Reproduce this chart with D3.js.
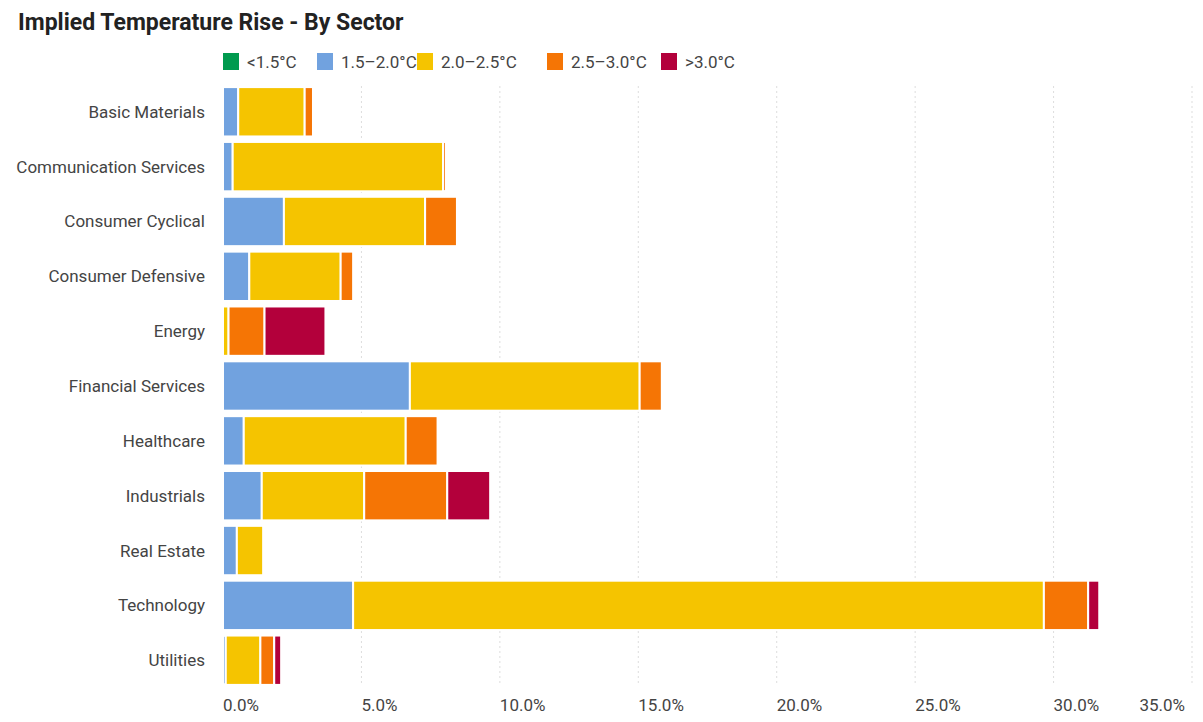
<!DOCTYPE html>
<html><head><meta charset="utf-8">
<script src="https://cdn.jsdelivr.net/npm/d3@7"></script>
<style>body{margin:0;background:#fff;font-family:Roboto,sans-serif}</style>
</head><body>
<svg id="chart" width="1203" height="722"></svg>
<script>
var sectors = ["Basic Materials", "Communication Services", "Consumer Cyclical", "Consumer Defensive", "Energy", "Financial Services", "Healthcare", "Industrials", "Real Estate", "Technology", "Utilities"];
var bands = ["<1.5°C", "1.5–2.0°C", "2.0–2.5°C", "2.5–3.0°C", ">3.0°C"];
var colors = ["#009a4e", "#71a2df", "#f5c400", "#f57505", "#b3003b"];
var below15 = [0, 0, 0, 0, 0, 0, 0, 0, 0, 0, 0];
var b15to20 = [0.55, 0.35, 2.2, 0.95, 0, 6.75, 0.75, 1.4, 0.5, 4.7, 0.1];
var b20to25 = [2.4, 7.6, 5.1, 3.3, 0.2, 8.3, 5.85, 3.7, 0.95, 24.95, 1.25];
var b25to30 = [0.3, 0.1, 1.15, 0.45, 1.3, 0.8, 1.15, 3.0, 0, 1.6, 0.5];
var above30 = [0, 0, 0, 0, 2.2, 0, 0, 1.55, 0, 0.4, 0.25];
var xTicks = [0, 5, 10, 15, 20, 25, 30, 35];

var series = [below15, b15to20, b20to25, b25to30, above30];
var rows = sectors.map(function (s, i) {
  var r = { sector: s };
  bands.forEach(function (b, j) { r[b] = series[j][i]; });
  return r;
});

var svg = d3.select("#chart");
var x = d3.scaleLinear().domain([0, 35]).range([223, 1192]);
var y = d3.scaleBand().domain(sectors).range([86, 686]).paddingInner(0.1).paddingOuter(0.02);

// title
svg.append("text").attr("x", 18).attr("y", 30).attr("font-size", 23).attr("font-weight", "bold")
  .attr("fill", "#222").text("Implied Temperature Rise - By Sector");

// legend
var lx = [223, 317, 417, 547, 661];
bands.forEach(function (b, i) {
  var g = svg.append("g").attr("transform", "translate(" + lx[i] + ",53)");
  g.append("rect").attr("width", 16).attr("height", 17).attr("fill", colors[i]);
  g.append("text").attr("x", 24).attr("y", 15).attr("font-size", 17).attr("fill", "#444").text(b);
});

// grid
svg.append("g").selectAll("line").data(xTicks.slice(1)).enter().append("line")
  .attr("x1", function (d) { return x(d); }).attr("x2", function (d) { return x(d); })
  .attr("y1", 86).attr("y2", 686).attr("stroke", "#ddd").attr("stroke-dasharray", "2,3");

// bars
var stack = d3.stack().keys(bands)(rows);
svg.append("g").selectAll("g").data(stack).enter().append("g")
  .attr("fill", function (d, i) { return colors[i]; })
  .selectAll("rect").data(function (d) { return d; }).enter().append("rect")
  .attr("x", function (d) { return x(d[0]); })
  .attr("y", function (d) { return y(d.data.sector); })
  .attr("width", function (d) { return Math.max(0, x(d[1]) - x(d[0])); })
  .attr("height", y.bandwidth())
  .attr("stroke", "#fff").attr("stroke-width", function (d) { return d[1] > d[0] ? 2 : 0; });

// y labels
svg.append("g").selectAll("text").data(sectors).enter().append("text")
  .attr("x", 205).attr("y", function (d) { return y(d) + y.bandwidth() / 2 + 6; })
  .attr("text-anchor", "end").attr("font-size", 17).attr("fill", "#444").text(function (d) { return d; });

// x labels
svg.append("g").selectAll("text").data(xTicks).enter().append("text")
  .attr("x", function (d, i) { return i === xTicks.length - 1 ? 1185 : x(d); })
  .attr("y", 711).attr("text-anchor", function (d, i) { return i === xTicks.length - 1 ? "end" : "start"; })
  .attr("font-size", 17).attr("fill", "#444").text(function (d) { return d.toFixed(1) + "%"; });
</script>
</body></html>
